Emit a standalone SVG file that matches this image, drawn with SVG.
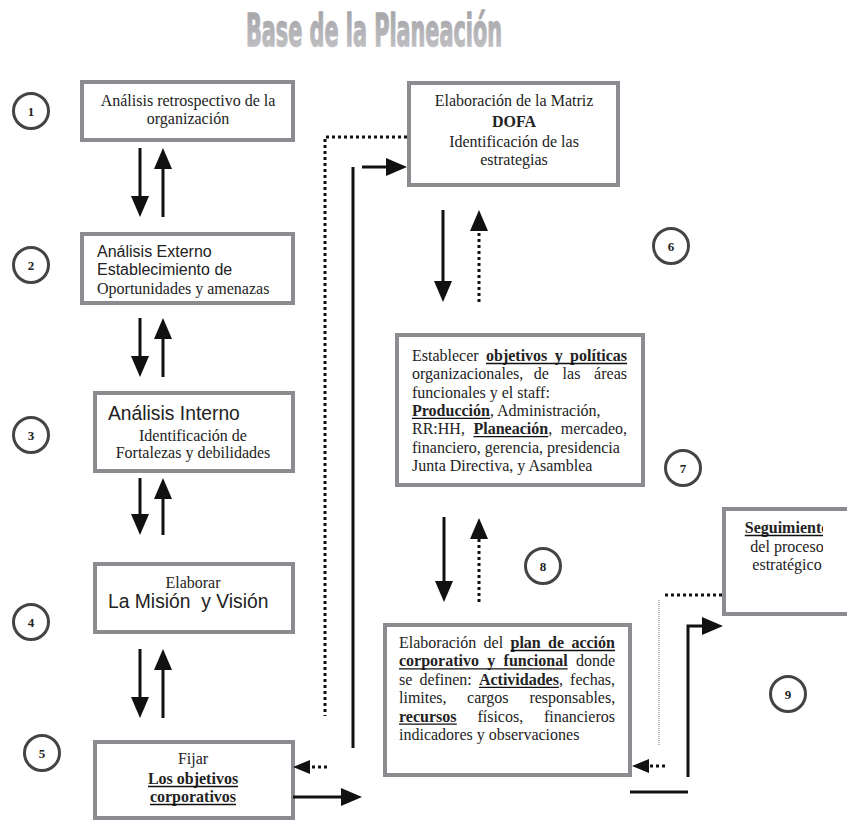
<svg xmlns="http://www.w3.org/2000/svg" width="847" height="823" viewBox="0 0 847 823">
<style>
.box{fill:#fff;stroke:#8c8c90;stroke-width:4}
.s{font-family:"Liberation Serif","Times New Roman",serif;font-size:16px;fill:#222}
.ss{font-family:"Liberation Sans",Arial,sans-serif;fill:#222}
.b{font-weight:bold}
.ul{stroke:#111;stroke-width:1.3}
.num{fill:#fff;stroke:#444;stroke-width:3}
.nt{font-family:"Liberation Serif","Times New Roman",serif;font-size:13px;font-weight:bold;fill:#222;text-anchor:middle}
.c{text-anchor:middle}
.ln{stroke:#111;stroke-width:3;fill:none}
.dt{stroke:#111;stroke-width:3;fill:none;stroke-dasharray:3 3}
</style>
<defs>
<linearGradient id="tg" x1="0" y1="0" x2="0" y2="1">
<stop offset="0" stop-color="#a0a0a4"/><stop offset="1" stop-color="#c6c6c9"/>
</linearGradient>
<marker id="ah" markerUnits="userSpaceOnUse" markerWidth="22" markerHeight="20" viewBox="0 0 22 20" refX="11" refY="10" orient="auto"><path d="M0,1 L21,10 L0,19 z" fill="#111"/></marker>
<marker id="as" markerUnits="userSpaceOnUse" markerWidth="18" markerHeight="16" viewBox="0 0 18 16" refX="7" refY="8" orient="auto"><path d="M0,1 L17,8 L0,15 z" fill="#111"/></marker>
<clipPath id="c2"><rect x="84" y="236" width="207" height="62"/></clipPath>
<clipPath id="cs"><rect x="726" y="511" width="97" height="101"/></clipPath>
</defs>

<text x="246" y="46" font-family="DejaVu Sans Condensed,DejaVu Sans,sans-serif" font-weight="bold" font-size="45" textLength="256" lengthAdjust="spacingAndGlyphs" fill="url(#tg)" stroke="url(#tg)" stroke-width="1.4">Base de la Planeación</text>

<g id="n1">
<rect class="box" x="82" y="82" width="211" height="58"/>
<text class="s c" x="188" y="106">Análisis retrospectivo de la</text>
<text class="s c" x="188" y="124">organización</text>
</g>
<g id="n2">
<rect class="box" x="82" y="234" width="211" height="69"/>
<g clip-path="url(#c2)">
<text class="ss" font-size="16" x="97" y="257">Análisis Externo</text>
<text class="ss" font-size="16" x="97" y="275">Establecimiento de</text>
<text class="s" x="97" y="294">Oportunidades y amenazas</text>
</g>
</g>
<g id="n3">
<rect class="box" x="95" y="393" width="198" height="78"/>
<text class="ss" font-size="19.3" x="108" y="420">Análisis Interno</text>
<text class="s c" x="193" y="441">Identificación de</text>
<text class="s c" x="193" y="458">Fortalezas y debilidades</text>
</g>
<g id="n4">
<rect class="box" x="95" y="564" width="198" height="68"/>
<text class="s c" x="193" y="588">Elaborar</text>
<text class="ss" font-size="19.3" x="108" y="608" xml:space="preserve">La Misión  y Visión</text>
</g>
<g id="n5">
<rect class="box" x="95" y="742" width="198" height="76"/>
<text class="s c" x="193" y="764">Fijar</text>
<text class="s b c" x="193" y="784">Los objetivos</text>
<text class="s b c" x="193" y="802">corporativos</text>
<line class="ul" x1="148" y1="786.5" x2="238" y2="786.5"/>
<line class="ul" x1="150" y1="804.5" x2="236" y2="804.5"/>
</g>
<g id="n6">
<rect class="box" x="409" y="83" width="209" height="102"/>
<text class="s c" x="514" y="106">Elaboración de la Matriz</text>
<text class="s b c" font-size="20" x="514" y="127">DOFA</text>
<text class="s c" x="514" y="147">Identificación de las</text>
<text class="s c" x="514" y="165">estrategias</text>
</g>
<g id="n7">
<rect class="box" x="397" y="335" width="246" height="150"/>
<text class="s" y="361"><tspan x="412">Establecer</tspan><tspan class="b" x="486">objetivos</tspan><tspan class="b" x="554.7">y</tspan><tspan class="b" x="570.1">políticas</tspan></text>
<line class="ul" x1="486" y1="363.5" x2="627" y2="363.5"/>
<text class="s" y="379.3"><tspan x="412">organizacionales,</tspan><tspan x="533.7">de</tspan><tspan x="562.6">las</tspan><tspan x="594.1">áreas</tspan></text>
<text class="s" x="412" y="397.6">funcionales y el staff:</text>
<text class="s" x="412" y="415.9"><tspan class="b">Producción</tspan>, Administración,</text>
<line class="ul" x1="412" y1="418.4" x2="490.2" y2="418.4"/>
<text class="s" y="434.2"><tspan x="412">RR:HH,</tspan><tspan class="b" x="473.5">Planeación</tspan>,<tspan x="560.8">mercadeo,</tspan></text>
<line class="ul" x1="473.5" y1="436.7" x2="548.2" y2="436.7"/>
<text class="s" x="412" y="452.5">financiero, gerencia, presidencia</text>
<text class="s" x="412" y="470.8">Junta Directiva, y Asamblea</text>
</g>
<g id="n8">
<rect class="box" x="385" y="625" width="245" height="150"/>
<text class="s" y="648"><tspan x="399">Elaboración</tspan><tspan x="483.6">del</tspan><tspan class="b" x="510.5">plan</tspan><tspan class="b" x="548.1">de</tspan><tspan class="b" x="571.4">acción</tspan></text>
<line class="ul" x1="510.5" y1="650.5" x2="615" y2="650.5"/>
<text class="s" y="666.4"><tspan class="b" x="399">corporativo</tspan><tspan class="b" x="487.3">y</tspan><tspan class="b" x="503.6">funcional</tspan><tspan x="575.9">donde</tspan></text>
<line class="ul" x1="399" y1="668.9" x2="567.6" y2="668.9"/>
<text class="s" y="684.8"><tspan x="399">se</tspan><tspan x="419.4">definen:</tspan><tspan class="b" x="478.9">Actividades</tspan>,<tspan x="570.1">fechas,</tspan></text>
<line class="ul" x1="478.9" y1="687.3" x2="558.9" y2="687.3"/>
<text class="s" y="703.2"><tspan x="399">limites,</tspan><tspan x="467.1">cargos</tspan><tspan x="529.4">responsables,</tspan></text>
<text class="s" y="721.6"><tspan class="b" x="399">recursos</tspan><tspan x="477.4">físicos,</tspan><tspan x="543.9">financieros</tspan></text>
<line class="ul" x1="399" y1="724.1" x2="456.8" y2="724.1"/>
<text class="s" x="399" y="740">indicadores y observaciones</text>
</g>
<g id="n9">
<rect class="box" x="724" y="509" width="140" height="105"/>
<g clip-path="url(#cs)">
<text class="s b c" x="787" y="533">Seguimiento</text>
<line class="ul" x1="744.8" y1="535.5" x2="829.2" y2="535.5"/>
<text class="s c" x="787" y="551.5">del proceso</text>
<text class="s c" x="787" y="570">estratégico</text>
</g>
</g>

<g id="steps">
<circle class="num" cx="31" cy="111" r="17.5"/><text class="nt" x="31" y="115.5">1</text>
<circle class="num" cx="31" cy="265" r="17.5"/><text class="nt" x="31" y="269.5">2</text>
<circle class="num" cx="31" cy="435" r="17.5"/><text class="nt" x="31" y="439.5">3</text>
<circle class="num" cx="31" cy="622" r="17.5"/><text class="nt" x="31" y="626.5">4</text>
<circle class="num" cx="42" cy="753" r="17.5"/><text class="nt" x="42" y="757.5">5</text>
<circle class="num" cx="671" cy="246" r="17.5"/><text class="nt" x="671" y="250.5">6</text>
<circle class="num" cx="683" cy="468" r="17.5"/><text class="nt" x="683" y="472.5">7</text>
<circle class="num" cx="543" cy="566" r="17.5"/><text class="nt" x="543" y="570.5">8</text>
<circle class="num" cx="788" cy="694" r="17.5"/><text class="nt" x="788" y="698.5">9</text>
</g>

<g id="connectors">
<line class="ln" x1="140" y1="148" x2="140" y2="207" marker-end="url(#ah)"/>
<line class="ln" x1="163" y1="217" x2="163" y2="158" marker-end="url(#ah)"/>
<line class="ln" x1="140" y1="318" x2="140" y2="367" marker-end="url(#ah)"/>
<line class="ln" x1="163" y1="377" x2="163" y2="328" marker-end="url(#ah)"/>
<line class="ln" x1="140" y1="478" x2="140" y2="525" marker-end="url(#ah)"/>
<line class="ln" x1="163" y1="535" x2="163" y2="488" marker-end="url(#ah)"/>
<line class="ln" x1="140" y1="649" x2="140" y2="708" marker-end="url(#ah)"/>
<line class="ln" x1="163" y1="718" x2="163" y2="659" marker-end="url(#ah)"/>
<line class="ln" x1="443" y1="210" x2="443" y2="292" marker-end="url(#ah)"/>
<line class="dt" x1="479" y1="302" x2="479" y2="220" marker-end="url(#ah)"/>
<line class="ln" x1="444" y1="517" x2="444" y2="592" marker-end="url(#ah)"/>
<line class="dt" x1="479" y1="602" x2="479" y2="528" marker-end="url(#ah)"/>
<path class="dt" d="M407,137 H325 V716"/>
<line class="ln" x1="353" y1="167" x2="353" y2="748"/>
<line class="ln" x1="362" y1="167" x2="397" y2="167" marker-end="url(#ah)"/>
<line class="dt" x1="327" y1="767" x2="303" y2="767" marker-end="url(#as)"/>
<line class="ln" x1="293" y1="797" x2="352" y2="797" marker-end="url(#ah)"/>
<line class="dt" x1="665" y1="766" x2="642" y2="766" marker-end="url(#as)"/>
<line class="dt" x1="665" y1="595" x2="722" y2="595"/>
<line x1="659" y1="600" x2="659" y2="745" stroke="#777" stroke-width="1" stroke-dasharray="1 1"/>
<path class="ln" d="M688,777 V626 H713" marker-end="url(#ah)"/>
<line class="ln" x1="630" y1="792" x2="688" y2="792"/>
</g>
</svg>
